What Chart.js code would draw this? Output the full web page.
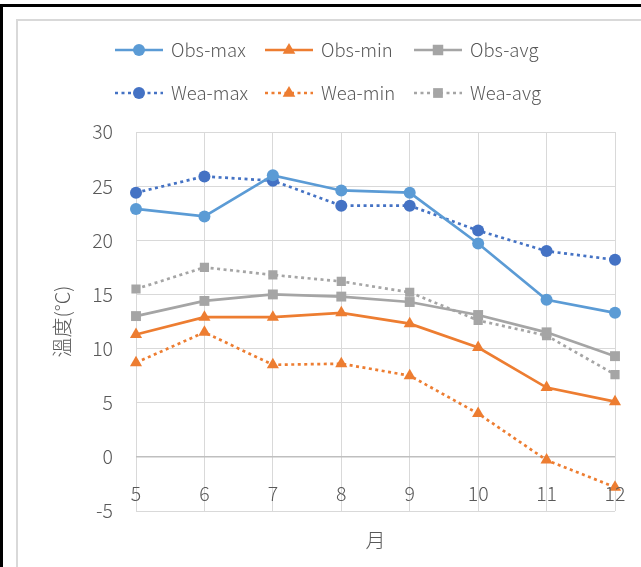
<!DOCTYPE html>
<html>
<head>
<meta charset="utf-8">
<script src="https://cdn.jsdelivr.net/npm/chart.js@4/dist/chart.umd.min.js"></script>
<style>
  html, body { margin: 0; padding: 0; background: #fff; }
  #wrap { position: relative; width: 641px; height: 567px; overflow: hidden; }
  /* marcos del recuadro */
  #marco { position: absolute; left: 0; top: 4px; width: 700px; height: 700px;
           border-top: 3px solid #000; border-left: 3px solid #000; }
  #marco2 { position: absolute; left: 16px; top: 19px; width: 700px; height: 700px;
            border-top: 2px solid #d9d9d9; border-left: 2px solid #d9d9d9; }
  canvas { position: absolute; left: 0; top: 0; }
</style>
</head>
<body>
<div id="wrap">
  <div id="marco"></div>
  <div id="marco2"></div>
  <canvas id="linea_1" width="641" height="567"></canvas>
</div>
<script>
// meses
var meses = ['5', '6', '7', '8', '9', '10', '11', '12'];

// observado
var obs_max = [22.9, 22.2, 26.0, 24.6, 24.4, 19.7, 14.5, 13.3];
var obs_min = [11.3, 12.9, 12.9, 13.3, 12.3, 10.1, 6.4, 5.1];
var obs_avg = [13.0, 14.4, 15.0, 14.8, 14.3, 13.1, 11.5, 9.3];

// pronostico
var wea_max = [24.4, 25.9, 25.5, 23.2, 23.2, 20.9, 19.0, 18.2];
var wea_min = [8.7, 11.5, 8.5, 8.6, 7.5, 4.0, -0.3, -2.8];
var wea_avg = [15.5, 17.5, 16.8, 16.2, 15.2, 12.6, 11.2, 7.6];

var fuente = "'Noto Sans CJK TC', 'Noto Sans', sans-serif";
var gris_texto = '#595959';
var punteado = [3, 3.5];

function serie(nombre, datos, color, forma, radio, dash) {
	return {
		label: nombre,
		data: datos,
		borderColor: color,
		backgroundColor: color,
		borderWidth: 2.7,
		borderDash: dash || [],
		pointStyle: forma,
		pointRadius: radio,
		pointHoverRadius: radio,
		pointBorderWidth: 0,
		tension: 0
	};
}

// leyenda dibujada a mano: 2 filas de 3
var leyenda = {
	id: 'leyenda',
	afterDraw: function(chart) {
		var ctx = chart.ctx;
		var cols = [115, 265, 414];
		var filas = [50, 93];
		chart.data.datasets.forEach(function(ds, i) {
			var x = cols[i % 3], y = filas[Math.floor(i / 3)];
			ctx.save();
			ctx.strokeStyle = ds.borderColor;
			ctx.lineWidth = 2.6;
			ctx.setLineDash(ds.borderDash);
			ctx.beginPath();
			ctx.moveTo(x, y);
			ctx.lineTo(x + 48, y);
			ctx.stroke();
			ctx.setLineDash([]);
			ctx.fillStyle = ds.backgroundColor;
			var cx = x + 24, r = ds.pointRadius;
			ctx.beginPath();
			if (ds.pointStyle === 'circle') {
				ctx.arc(cx, y, r, 0, Math.PI * 2);
			} else if (ds.pointStyle === 'triangle') {
				ctx.moveTo(cx, y - r);
				ctx.lineTo(cx + r * 0.9, y + r * 0.55);
				ctx.lineTo(cx - r * 0.9, y + r * 0.55);
				ctx.closePath();
			} else {
				ctx.rect(cx - r * 0.75, y - r * 0.75, r * 1.5, r * 1.5);
			}
			ctx.fill();
			ctx.fillStyle = gris_texto;
			ctx.font = "300 18.5px " + fuente;
			ctx.textBaseline = 'middle';
			ctx.fillText(ds.label, x + 56, y);
			ctx.restore();
		});
	}
};

// etiquetas de meses: van sobre la linea de -5, entre 0 y -5
var etiquetas_x = {
	id: 'etiquetas_x',
	afterDraw: function(chart) {
		var ctx = chart.ctx;
		var sx = chart.scales.x, sy = chart.scales.y;
		var yy = (sy.getPixelForValue(0) + sy.getPixelForValue(-5)) / 2 + 10;
		ctx.save();
		ctx.fillStyle = gris_texto;
		ctx.font = "300 19.5px " + fuente;
		ctx.textAlign = 'center';
		ctx.textBaseline = 'middle';
		chart.data.labels.forEach(function(lab, i) {
			ctx.fillText(lab, sx.getPixelForValue(i), yy);
		});
		ctx.restore();
	}
};

var configuracion = {
	type: 'line',
	data: {
		labels: meses,
		datasets: [
			serie('Obs-max', obs_max, '#5B9BD5', 'circle', 6),
			serie('Obs-min', obs_min, '#ED7D31', 'triangle', 7),
			serie('Obs-avg', obs_avg, '#A5A5A5', 'rect', 7),
			serie('Wea-max', wea_max, '#4472C4', 'circle', 6, punteado),
			serie('Wea-min', wea_min, '#ED7D31', 'triangle', 7, punteado),
			serie('Wea-avg', wea_avg, '#A5A5A5', 'rect', 6.5, punteado)
		]
	},
	options: {
		responsive: false,
		animation: false,
		layout: { padding: { top: 132, right: 26, left: 0, bottom: 0 } },
		plugins: {
			legend: { display: false },
			tooltip: { enabled: false }
		},
		scales: {
			x: {
				offset: false,
				grid: { color: '#d9d9d9', lineWidth: 1, drawTicks: false },
				border: { display: false },
				ticks: { display: false },
				title: { display: true, text: '月', color: gris_texto, padding: { top: 0, bottom: 15 }, font: { family: fuente, size: 20, weight: 300 } },
				afterFit: function(s) { s.height = 56; }
			},
			y: {
				min: -5,
				max: 30,
				ticks: { stepSize: 5, color: gris_texto, padding: 23, font: { family: fuente, size: 19.5, weight: 300 } },
				grid: {
					drawTicks: false,
					color: function(c) { return c.tick && c.tick.value === 0 ? '#bfbfbf' : '#d9d9d9'; },
					lineWidth: function(c) { return c.tick && c.tick.value === 0 ? 1.5 : 1; }
				},
				border: { display: false },
				title: { display: true, text: '溫度(°C)', color: gris_texto, padding: { top: 50, bottom: 0 }, font: { family: fuente, size: 20, weight: 300 } },
				afterFit: function(s) { s.width = 136; }
			}
		}
	},
	plugins: [leyenda, etiquetas_x]
};

var ctx = document.getElementById('linea_1').getContext('2d');
window.mi_grafico_linea = new Chart(ctx, configuracion);
</script>
</body>
</html>
